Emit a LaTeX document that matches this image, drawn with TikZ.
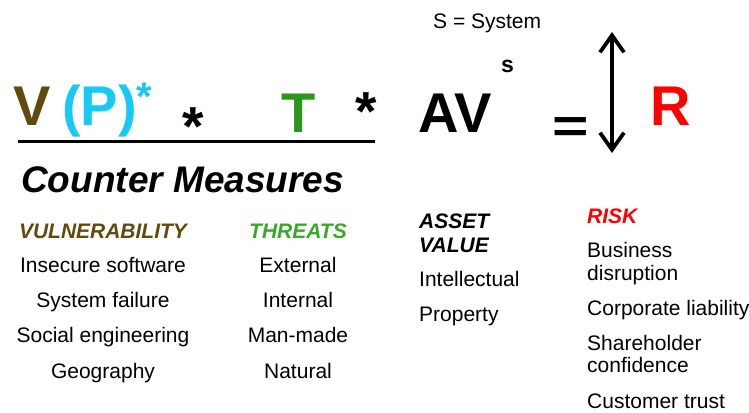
\documentclass[tikz,border=0pt]{standalone}
\usepackage{fontspec}
\setmainfont{Liberation Sans}
\usetikzlibrary{positioning,arrows.meta}

\definecolor{vbrown}{RGB}{98,74,12}
\definecolor{pcyan}{RGB}{24,200,245}
\definecolor{tgreen}{RGB}{44,150,30}
\definecolor{hgreen}{RGB}{56,168,40}
\definecolor{rred}{RGB}{255,0,0}

\begin{document}
\begin{tikzpicture}[x=1pt, y=-1pt,
        big/.style={inner sep=0pt, anchor=base west, font=\fontsize{56}{56}\selectfont\bfseries},
        times/.style={inner sep=0pt, anchor=base west, font=\fontsize{55}{55}\selectfont\bfseries},
        head/.style={inner sep=0pt, font=\fontsize{21}{23}\selectfont\bfseries\itshape},
        item/.style={inner sep=0pt, font=\fontsize{21}{23}\selectfont},
        >={Straight Barb[length=17pt,width=24pt]}]
    \useasboundingbox (0,0) rectangle (749,412);
    % the formula
    \node[big, text=vbrown] (V) at (13,125) {V};
    \node[big, text=pcyan] (P) at (62,125) {(P)};
    \node[inner sep=0pt, anchor=base west, text=pcyan, font=\fontsize{40}{40}\selectfont\bfseries] (Pstar) at (136,110) {*};
    \node[times] (star1) at (182,145) {*};
    \node[big, text=tgreen] (T) at (281,132) {T};
    \node[times] (star2) at (355,130) {*};
    \node[big] (AV) at (418,132) {AV};
    \node[inner sep=0pt, anchor=base west, font=\fontsize{23}{23}\selectfont\bfseries] (S) at (501,72) {s};
    \node[inner sep=0pt, anchor=base west, font=\fontsize{21}{21}\selectfont] (Sdef) at (433,29) {S = System};
    \node[inner sep=0pt, anchor=base west, font=\fontsize{48}{48}\selectfont\bfseries] (eq) at (552,142) {\scalebox{1.3}[1]{=}};
    \node[big, text=rred] (R) at (650,125) {R};
    \coordinate (top) at (612,32);
    \coordinate (bot) at (612,153);
    \draw[line width=3.8pt, <->] (top) -- (bot);
    \coordinate (lineL) at (18,141.5);
    \coordinate (lineR) at (375,141.5);
    \draw[line width=3pt] (lineL) -- (lineR);
    \node[inner sep=0pt, anchor=base west, font=\fontsize{37}{37}\selectfont\bfseries\itshape] (cm) at (21,192) {Counter Measures};
    % the columns
    \node[head, anchor=base, text=vbrown] (vul) at (103,238) {VULNERABILITY};
    \foreach \t [count=\i] in {Insecure software, System failure, Social engineering, Geography}
        \node[item, anchor=base] (vul\i) at (103,237+35.3*\i) {\t};
    \node[head, anchor=base, text=hgreen] (thr) at (298,238) {THREATS};
    \foreach \t [count=\i] in {External, Internal, Man-made, Natural}
        \node[item, anchor=base] (thr\i) at (298,237+35.3*\i) {\t};
    \node[head, anchor=base west] (av1) at (419,228) {ASSET};
    \node[head, anchor=base west] (av2) at (419,252) {VALUE};
    \node[item, anchor=base west] (av3) at (419,286) {Intellectual};
    \node[item, anchor=base west] (av4) at (419,321) {Property};
    \node[head, anchor=base west, text=rred] (risk) at (587,223) {RISK};
    \node[item, anchor=base west] (risk1) at (587,257) {Business};
    \node[item, anchor=base west] (risk2) at (587,280) {disruption};
    \node[item, anchor=base west] (risk3) at (587,315) {Corporate liability};
    \node[item, anchor=base west] (risk4) at (587,350) {Shareholder};
    \node[item, anchor=base west] (risk5) at (587,372) {confidence};
    \node[item, anchor=base west] (risk6) at (587,408) {Customer trust};
\end{tikzpicture}
\end{document}
